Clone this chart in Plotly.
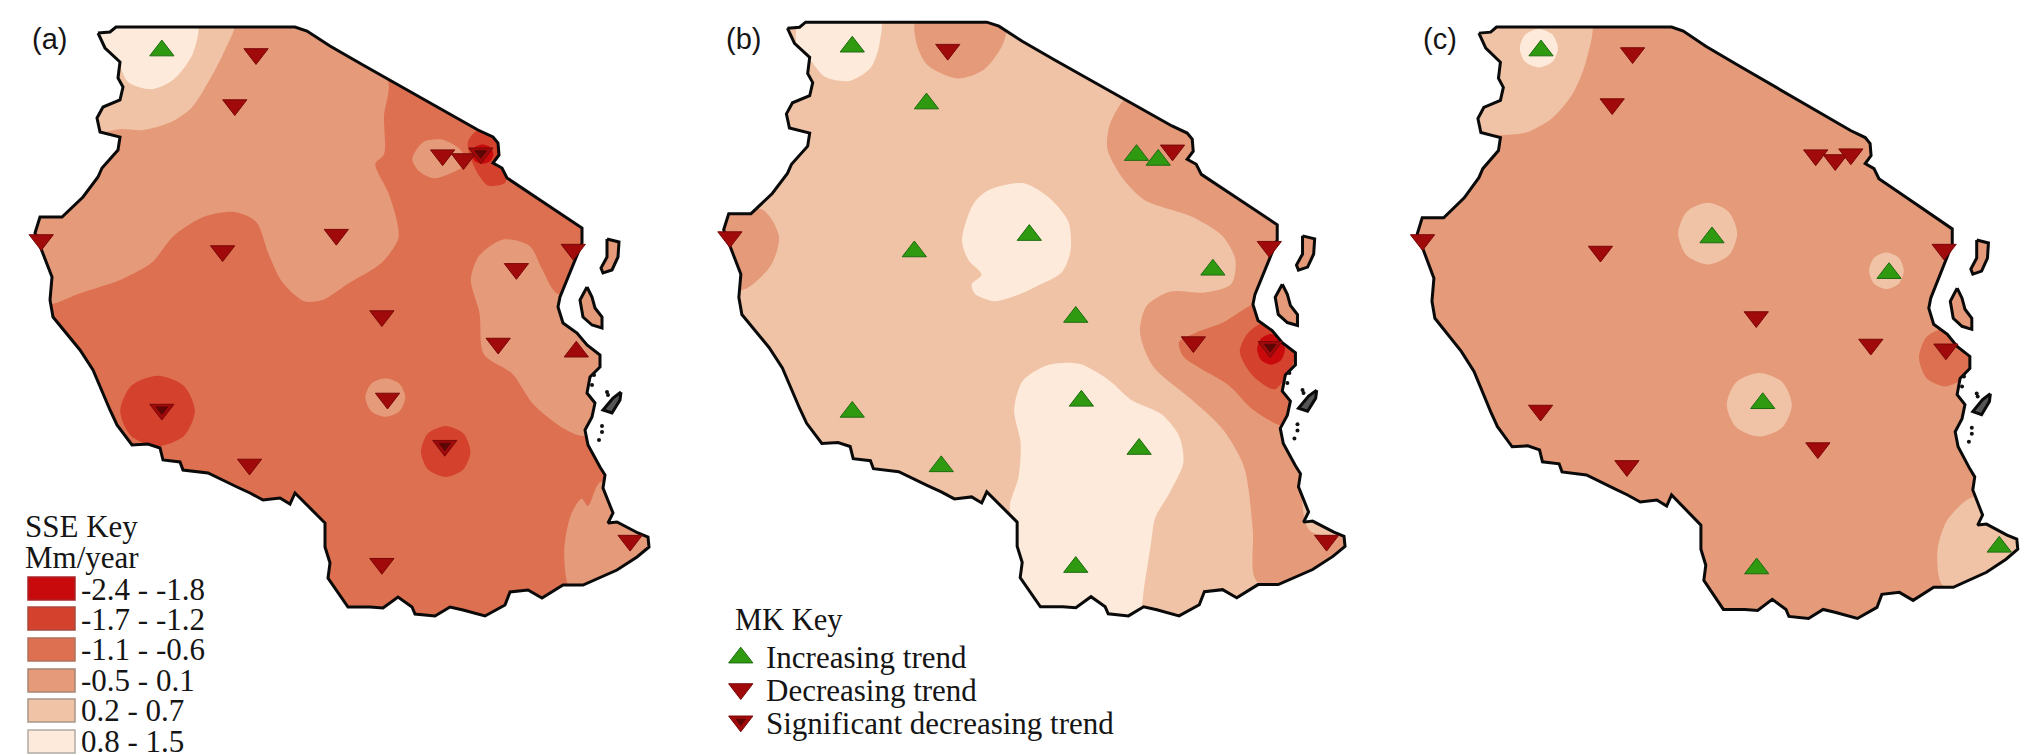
import numpy as np
import plotly.graph_objects as go

W, H = 2024, 755
VIEW = 1567  # every panel is a 1567 x 1567 grid laid over its crop of the figure

LEVELS = ["#c80a0c", "#d4412c", "#dc7050", "#e59a7a", "#f0c3a6", "#fdeada"]
LEVEL_LABELS = ["-2.4 - -1.8", "-1.7 - -1.2", "-1.1 - -0.6", "-0.5 - 0.1", "0.2 - 0.7", "0.8 - 1.5"]
LEVEL_EDGES = ["#a8262a", "#a84a3c", "#b0705c", "#a88474", "#a8968a", "#b0aca4"]
MK_LABELS = ["Increasing trend", "Decreasing trend", "Significant decreasing trend"]

# border traced on panel (a), in figure pixels
OUTLINE_X = [98, 110, 116, 295, 307, 330, 363, 405, 430, 463, 478, 493, 498, 499, 493, 502, 507, 543, 582,
             582, 575, 560, 558, 563, 577, 587, 600, 600, 590, 587, 595, 592, 585, 588, 600, 605, 603, 613,
             608, 617, 638, 648, 649, 637, 617, 583, 563, 542, 528, 510, 505, 485, 463, 450, 435, 415, 412,
             398, 383, 370, 348, 328, 330, 325, 325, 295, 290, 280, 263, 250, 237, 223, 208, 183, 180, 163,
             160, 148, 132, 117, 110, 93, 80, 53, 50, 52, 40, 35, 40, 62, 83, 98, 102, 118, 120, 100, 97, 103,
             120, 123, 118, 120, 105, 98]
OUTLINE_Y = [33, 32, 27, 27, 31, 46, 65, 89, 103, 122, 130, 137, 143, 155, 163, 168, 178, 202, 228,
             243, 260, 297, 307, 323, 333, 345, 355, 367, 377, 393, 403, 417, 430, 445, 467, 475, 488, 513,
             523, 522, 533, 537, 547, 557, 570, 585, 585, 598, 590, 592, 605, 616, 610, 607, 616, 614, 607,
             597, 608, 607, 607, 578, 563, 547, 523, 493, 504, 498, 500, 493, 487, 480, 473, 470, 462, 460,
             448, 444, 445, 425, 410, 370, 350, 317, 300, 277, 247, 233, 217, 217, 197, 177, 168, 150, 137,
             132, 118, 107, 100, 87, 78, 62, 48, 33]
PEMBA_X = [607, 619, 618, 612, 603, 601, 607]
PEMBA_Y = [239, 242, 257, 270, 273, 268, 257]
ZANZIBAR_X = [587, 592, 595, 602, 602, 592, 583, 580]
ZANZIBAR_Y = [287, 297, 308, 317, 328, 325, 317, 300]
MAFIA_X = [621, 620, 612, 603, 613]
MAFIA_Y = [392, 400, 413, 410, 398]
ISLET_X = [594, 592, 607, 608, 602, 602, 599]
ISLET_Y = [375, 385, 392, 395, 426, 432, 440]

# (level, [(x, y), ...])
A_REGIONS = [
    (3, [(200, 30), (700, 30), (893, 165), (885, 240), (885, 320), (865, 340), (895, 400), (915, 460), (918, 495),
         (880, 545), (800, 590), (745, 622), (700, 625), (650, 585), (620, 530), (590, 460), (540, 440), (470, 450),
         (400, 490), (350, 545), (280, 580), (180, 610), (125, 630), (60, 640), (30, 470), (150, 300)]),
    (4, [(540, 40), (515, 110), (480, 170), (440, 225), (390, 255), (330, 270), (275, 268), (170, 280), (170, 30)]),
    (5, [(453, 40), (445, 110), (400, 165), (350, 185), (295, 170), (265, 120), (200, 100), (200, 30)]),
    (3, [(950, 330), (975, 295), (1020, 290), (1060, 310), (1075, 340), (1050, 355), (1000, 370), (965, 355)]),
    (1, [(1078, 295), (1105, 268), (1150, 290), (1155, 330), (1165, 378), (1125, 385), (1095, 350)]),
    (3, [(1085, 580), (1105, 530), (1160, 497), (1220, 510), (1250, 560), (1285, 610), (1400, 600), (1400, 880),
         (1345, 905), (1300, 890), (1230, 840), (1180, 775), (1115, 735), (1105, 650)]),
    (3, [(1300, 1150), (1315, 1070), (1340, 1035), (1355, 1050), (1385, 1000), (1500, 1050), (1520, 1200),
         (1320, 1230)]),
]
A_BLOBS = [(363, 853, 86, 73, 1), (1027, 937, 57, 53, 1), (888, 825, 46, 40, 3), (1112, 320, 25, 20, 0)]
B_REGIONS = [
    (5, [(280, 30), (460, 30), (460, 90), (440, 140), (390, 168), (335, 160), (300, 125), (270, 100)]),
    (3, [(545, 40), (545, 90), (570, 135), (640, 163), (700, 145), (745, 90), (750, 40)]),
    (3, [(1020, 210), (990, 260), (985, 310), (1020, 370), (1070, 415), (1130, 435), (1180, 450), (1250, 490),
         (1280, 540), (1270, 590), (1210, 607), (1130, 605), (1075, 635), (1060, 690), (1090, 760), (1180, 830),
         (1250, 890), (1300, 970), (1320, 1100), (1328, 1205), (1450, 1230), (1580, 1120), (1450, 1100),
         (1440, 800), (1420, 620), (1400, 450), (1200, 280), (1050, 190)]),
    (2, [(1325, 630), (1250, 670), (1190, 690), (1150, 710), (1160, 740), (1200, 765), (1265, 800), (1320, 850),
         (1390, 885), (1460, 880), (1460, 680), (1400, 620)]),
    (1, [(1290, 730), (1310, 690), (1350, 670), (1420, 730), (1400, 775), (1370, 808), (1320, 780)]),
    (3, [(110, 445), (190, 435), (228, 490), (210, 550), (150, 600), (90, 600), (80, 450)]),
    (5, [(650, 500), (675, 425), (710, 395), (790, 380), (850, 410), (895, 460), (900, 520), (880, 565), (820, 595),
         (770, 615), (725, 625), (680, 610), (672, 590), (695, 570), (665, 540)]),
    (5, [(770, 850), (790, 790), (850, 757), (920, 755), (990, 790), (1040, 830), (1110, 860), (1150, 905),
         (1160, 960), (1130, 1020), (1095, 1075), (1085, 1130), (1070, 1215), (1055, 1290), (1000, 1320), (800, 1300),
         (770, 1100), (760, 1050), (780, 990), (785, 920)]),
]
B_BLOBS = [(1362, 725, 32, 32, 0)]
C_REGIONS = [
    (4, [(568, 40), (560, 120), (530, 190), (480, 245), (420, 275), (360, 280), (300, 270), (280, 150), (300, 40)]),
    (4, [(1440, 1035), (1390, 1080), (1368, 1140), (1380, 1215), (1500, 1220), (1570, 1130), (1480, 1030)]),
]
C_BLOBS = [(449, 100, 44, 40, 5), (838, 485, 68, 64, 4), (1250, 562, 40, 38, 4), (957, 840, 75, 66, 4),
           (1385, 742, 60, 60, 2)]

# trend stations, per panel
A_UP_X, A_UP_Y = [373], [105]
A_DOWN_X = [590, 541, 1020, 1068, 1108, 1321, 1190, 1148, 880, 775, 513, 95, 373, 893, 1025, 575, 880, 1452]
A_DOWN_Y = [112, 218, 322, 330, 318, 518, 558, 713, 656, 487, 521, 498, 850, 827, 925, 964, 1170, 1122]
A_OTHER_X, A_OTHER_Y = [1328], [730]
A_SIG_X, A_SIG_Y = [373, 1025, 1108], [850, 925, 318]
B_UP_X = [397, 568, 1052, 1102, 805, 540, 1228, 912, 925, 1058, 602, 397, 912]
B_UP_Y = [97, 215, 322, 332, 488, 522, 560, 658, 832, 932, 968, 855, 1177]
B_DOWN_X = [617, 1135, 1358, 115, 1183, 1360, 1490]
B_DOWN_Y = [103, 312, 512, 492, 710, 720, 1122]
B_SIG_X, B_SIG_Y = [1360], [720]
C_UP_X = [454, 848, 1256, 965, 951, 1510]
C_UP_Y = [105, 493, 567, 837, 1180, 1135]
C_DOWN_X = [665, 618, 1087, 1132, 1168, 1383, 950, 1214, 1387, 181, 591, 453, 652, 1092]
C_DOWN_Y = [110, 216, 322, 332, 320, 518, 658, 715, 725, 498, 522, 852, 967, 930]
KEY_X = [140, 140, 140]
KEY_Y = [1365, 1430, 1497]

GREEN, DARK_RED = "#2f9a10", "#a00a0a"
OCT_X = np.array([1, .71, 0, -.71, -1, -.71, 0, .71, 1])
OCT_Y = np.array([0, .71, 1, .71, 0, -.71, -1, -.71, 0])

fig = go.Figure()


def smooth_fill(xs, ys, color, ax):
    fig.add_trace(go.Scatter(x=xs, y=ys, xaxis="x" + ax, yaxis="y" + ax, mode="lines", fill="toself",
                             fillcolor=color, line=dict(width=0, shape="spline", smoothing=0.8),
                             hoverinfo="skip", showlegend=False))


def poly(xs, ys, ax, fill, line_width=3):
    fig.add_trace(go.Scatter(x=xs, y=ys, xaxis="x" + ax, yaxis="y" + ax, mode="lines", fill="toself",
                             fillcolor=fill, line=dict(width=line_width, color="#0a0a0a"),
                             hoverinfo="skip", showlegend=False))


def stations(xs, ys, symbol, color, edge, ax, size=21):
    fig.add_trace(go.Scatter(x=xs, y=ys, xaxis="x" + ax, yaxis="y" + ax, mode="markers",
                             marker=dict(symbol=symbol, size=size, color=color, line=dict(width=1, color=edge)),
                             hoverinfo="skip", showlegend=False))


def draw_panel(ax, base, regions, blobs, sx, ox, sy, oy):
    to_view = lambda v, s, o, span: o + s * np.array(v, dtype=float) * VIEW / span
    bx, by = to_view(OUTLINE_X, sx, ox, 680), to_view(OUTLINE_Y, sy, oy, 755)
    fig.add_trace(go.Scatter(x=bx, y=by, xaxis="x" + ax, yaxis="y" + ax, mode="lines", fill="toself",
                             fillcolor=LEVELS[base], line=dict(width=0), hoverinfo="skip", showlegend=False))
    for level, pts in regions:
        pts = pts + pts[:1]
        smooth_fill([p[0] for p in pts], [p[1] for p in pts], LEVELS[level], ax)
    for cx, cy, rx, ry, level in blobs:
        smooth_fill(cx + rx * OCT_X, cy + ry * OCT_Y, LEVELS[level], ax)
    # white frame with the country cut out, hides whatever spills over the border
    x0, x1, y0, y1 = max(0, bx.min() - 130), VIEW, 0, VIEW
    mask_x = [x0, x1, x1, x0, x0, bx[0]] + list(bx[::-1]) + [x0]
    mask_y = [y0, y0, y1, y1, y0, by[0]] + list(by[::-1]) + [y0]
    fig.add_trace(go.Scatter(x=mask_x, y=mask_y, xaxis="x" + ax, yaxis="y" + ax, mode="lines", fill="toself",
                             fillcolor="white", line=dict(width=0), hoverinfo="skip", showlegend=False))
    poly(bx, by, ax, "rgba(0,0,0,0)", 3)
    for ix, iy, col in [(PEMBA_X, PEMBA_Y, LEVELS[3]), (ZANZIBAR_X, ZANZIBAR_Y, LEVELS[3]), (MAFIA_X, MAFIA_Y, "#555555")]:
        poly(to_view(ix + ix[:1], sx, ox, 680), to_view(iy + iy[:1], sy, oy, 755), ax, col, 3)
    fig.add_trace(go.Scatter(x=to_view(ISLET_X, sx, ox, 680), y=to_view(ISLET_Y, sy, oy, 755), xaxis="x" + ax,
                             yaxis="y" + ax, mode="markers", marker=dict(size=4, color="#111111"),
                             hoverinfo="skip", showlegend=False))


draw_panel("", 2, A_REGIONS, A_BLOBS, 1, 0, 1, 0)
draw_panel("2", 4, B_REGIONS, B_BLOBS, 1.012, 19, 1.008, -10.5)
draw_panel("3", 3, C_REGIONS, C_BLOBS, 0.978, 90, 1.004, 0)

stations(A_UP_X, A_UP_Y, "triangle-up", GREEN, "#1d6a10", "")
stations(A_DOWN_X, A_DOWN_Y, "triangle-down", DARK_RED, "#7a0808", "")
stations(A_OTHER_X, A_OTHER_Y, "triangle-up", DARK_RED, "#7a0808", "")
stations(A_SIG_X, A_SIG_Y, "triangle-down", "#5c0606", "#5c0606", "", 10)
stations(B_UP_X, B_UP_Y, "triangle-up", GREEN, "#1d6a10", "2")
stations(B_DOWN_X, B_DOWN_Y, "triangle-down", DARK_RED, "#7a0808", "2")
stations(B_SIG_X, B_SIG_Y, "triangle-down", "#5c0606", "#5c0606", "2", 10)
stations(C_UP_X, C_UP_Y, "triangle-up", GREEN, "#1d6a10", "3")
stations(C_DOWN_X, C_DOWN_Y, "triangle-down", DARK_RED, "#7a0808", "3")
stations(KEY_X[:1], KEY_Y[:1], "triangle-up", GREEN, "#1d6a10", "2")
stations(KEY_X[1:], KEY_Y[1:], "triangle-down", DARK_RED, "#7a0808", "2")
stations(KEY_X[2:], KEY_Y[2:], "triangle-down", "#5c0606", "#5c0606", "2", 8)

annotations = []
shapes = []


def label(text, x, y, size=30, family="Liberation Serif"):
    annotations.append(dict(text=text, x=x / W, y=1 - y / H, xref="paper", yref="paper", xanchor="left",
                            yanchor="middle", showarrow=False, font=dict(family=family, size=size, color="#151515")))


for text, x in [("(a)", 30), ("(b)", 724), ("(c)", 1421)]:
    label(text, x, 39, 29, "Liberation Sans")
label("SSE Key", 23, 526, 31)
label("Mm/year", 23, 557, 31)
for text, col, edge, y0, y1, yc in zip(LEVEL_LABELS, LEVELS, LEVEL_EDGES,
                                       [577, 607, 638, 669, 699, 730], [600, 630, 661, 692, 722, 753],
                                       [589, 619, 649, 680, 710, 741]):
    shapes.append(dict(type="rect", xref="paper", yref="paper", x0=28 / W, x1=75 / W, y0=1 - y0 / H, y1=1 - y1 / H,
                       fillcolor=col, line=dict(color=edge, width=1.5)))
    label(text, 79, yc, 31)
label("MK Key", 733, 620, 30.5)
for text, yc in zip(MK_LABELS, [657, 690, 723]):
    label(text, 764, yc, 31)

axis = dict(visible=False, range=[0, VIEW], fixedrange=True)
yaxis = dict(visible=False, range=[VIEW, 0], fixedrange=True)
fig.update_layout(
    width=W, height=H, margin=dict(l=0, r=0, t=0, b=0), paper_bgcolor="white", plot_bgcolor="rgba(0,0,0,0)",
    showlegend=False, annotations=annotations, shapes=shapes,
    xaxis=dict(axis, domain=[0, 680 / W]), yaxis=dict(yaxis, anchor="x"),
    xaxis2=dict(axis, domain=[680 / W, 1360 / W]), yaxis2=dict(yaxis, anchor="x2"),
    xaxis3=dict(axis, domain=[1344 / W, 1]), yaxis3=dict(yaxis, anchor="x3"),
)

fig.write_html("out.html", config=dict(displayModeBar=False), post_script="document.body.style.margin='0';")
